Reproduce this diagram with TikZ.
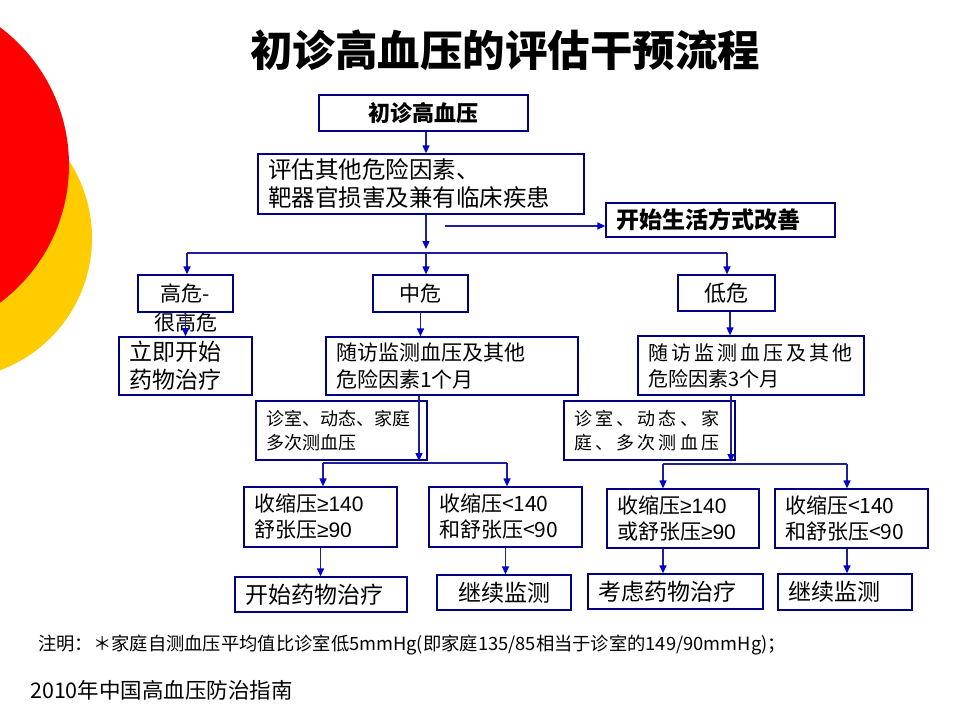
\documentclass[tikz,border=0pt]{standalone}
\usepackage{fontspec}
\setmainfont{Noto Sans CJK SC}
\newfontfamily\latinfont{Liberation Sans}
\usetikzlibrary{arrows.meta}
\definecolor{boxblue}{HTML}{000080}
\definecolor{lineblue}{HTML}{1F1F99}
\definecolor{tipblue}{HTML}{0000CC}
\definecolor{bgred}{HTML}{FF0000}
\definecolor{bgyellow}{HTML}{FFCC00}
\newcommand{\sz}[2]{\fontsize{#1}{#2}\selectfont}
\newcommand{\atleast}[1]{{\latinfont ≥#1}}
\tikzstyle{box} = [rectangle, draw=boxblue, line width=1.3pt, inner xsep=10pt, inner ysep=0pt, align=center]
\tikzstyle{boxl} = [box, align=left]
\tikzstyle{arrow} = [draw=lineblue, line width=1.3pt, -{Triangle[length=8pt,width=7pt,color=tipblue]}]
\tikzstyle{line} = [draw=lineblue, line width=1.3pt]

\begin{document}
\begin{tikzpicture}[x=1pt,y=-1pt]
\useasboundingbox (0,0) rectangle (960,720);
\begin{scope}
\clip (0,0) rectangle (960,720);
\fill [bgyellow] (-49,238) circle (141pt);
\fill [bgred] (-103,165) circle (172pt);
\end{scope}
\node (title) at (505,50) {\sz{42.5}{50}\bfseries 初诊高血压的评估干预流程};
\node (node0) [box, font=\sz{22}{26}\bfseries, minimum width=209pt, minimum height=36pt] at (423.5,113) {初诊高血压};
\node (node1) [boxl, font=\sz{23.5}{28}, text width=306pt, minimum height=60pt] at (421,184) {评估其他危险因素、\\靶器官损害及兼有临床疾患};
\draw [arrow] ([xshift=2.5pt]node0.south) -- ([xshift=2.5pt]node0.south |- node1.north);
\node (node2) [boxl, font=\sz{23}{27}\bfseries, text width=209pt, minimum height=34pt] at (720.5,220) {开始生活方式改善};
\coordinate (life0) at (445,226);
\draw [arrow] (life0) -- (life0 -| node2.west);
\node (node3) [box, font=\sz{21}{25}, minimum width=95pt, minimum height=37pt, label={[font=\sz{21}{25}, inner sep=0pt]below:很高危}] at (185.5,293.5) {高危-};
\node (node4) [box, font=\sz{21}{25}, minimum width=95pt, minimum height=37pt] at (420.5,293.5) {中危};
\node (node5) [box, font=\sz{22}{26}, minimum width=97pt, minimum height=36pt] at (726.5,293) {低危};
\coordinate (split0) at (426,253);
\coordinate (split0l) at (187,253);
\coordinate (split0r) at (727,253);
\draw [arrow, shorten >=4pt] (node1.south -| split0) -- (split0);
\draw [line] (split0l) -- (split0r);
\draw [arrow] (split0l) -- (split0l |- node3.north);
\draw [arrow] (split0) -- (split0 |- node4.north);
\draw [arrow] (split0r) -- (split0r |- node5.north);
\node (node6) [boxl, font=\sz{23}{28}, text width=113pt, minimum height=58pt] at (185.5,366) {立即开始\\药物治疗};
\draw [arrow] (node3.south) -- (node6.north);
\node (node7) [boxl, font=\sz{21}{27}, text width=232pt, minimum height=58pt] at (452,366) {随访监测血压及其他\\危险因素1个月};
\draw [arrow] (node4.south) -- (node4.south |- node7.north);
\node (node8) [boxl, font=\sz{20}{26}, text width=206pt, minimum height=59pt] at (751,365.5) {{\addfontfeature{LetterSpace=15}随访监测血压及其他}\\危险因素3个月};
\draw [arrow] ([xshift=3.5pt]node5.south) -- ([xshift=3.5pt]node5.south |- node8.north);
\node (node9) [boxl, font=\sz{18}{24}, text width=151pt, minimum height=59pt] at (341.5,430.5) {诊室、动态、家庭\\多次测血压};
\node (node10) [boxl, font=\sz{18}{24}\addfontfeature{LetterSpace=18}, text width=151pt, minimum height=59pt] at (649.5,430.5) {诊室、动态、家\\庭、多次测血压};
\node (node11) [boxl, font=\sz{21}{26}, text width=133pt, minimum height=60pt] at (320.5,517) {收缩压\atleast{140}\\舒张压\atleast{90}};
\node (node12) [boxl, font=\sz{21}{26}, text width=133pt, minimum height=60pt] at (505.5,517) {收缩压<140\\和舒张压<90};
\node (node13) [boxl, font=\sz{21}{26}, text width=132pt, minimum height=59pt] at (683,518.5) {收缩压\atleast{140}\\或舒张压\atleast{90}};
\node (node14) [boxl, font=\sz{21}{26}, text width=133pt, minimum height=59pt] at (851.5,518.5) {收缩压<140\\和舒张压<90};
\coordinate (split1) at (419,463);
\coordinate (split1l) at (323,463);
\coordinate (split1r) at (507,463);
\draw [arrow, shorten >=2pt] (node7.south -| split1) -- (split1);
\draw [line] (split1l) -- (split1r);
\draw [arrow] (split1l) -- (split1l |- node11.north);
\draw [arrow] (split1r) -- (split1r |- node12.north);
\coordinate (split2) at (731,464);
\coordinate (split2l) at (663,464);
\coordinate (split2r) at (847,464);
\draw [arrow, shorten >=2pt] (node8.south -| split2) -- (split2);
\draw [line] (split2l) -- (split2r);
\draw [arrow] (split2l) -- (split2l |- node13.north);
\draw [arrow] (split2r) -- (split2r |- node14.north);
\node (node15) [boxl, font=\sz{23}{27}, text width=152pt, minimum height=35pt] at (321,594.5) {开始药物治疗};
\node (node16) [box, font=\sz{23}{27}, minimum width=134pt, minimum height=35pt] at (504,592.5) {继续监测};
\node (node17) [boxl, font=\sz{23}{27}, text width=155pt, minimum height=35pt] at (675.5,591.5) {考虑药物治疗};
\node (node18) [boxl, font=\sz{23}{27}, text width=114pt, minimum height=36pt] at (845,592) {继续监测};
\draw [arrow] (node11.south) -- (node11.south |- node15.north);
\draw [arrow] (node12.south) -- (node12.south |- node16.north);
\draw [arrow] (node13.south -| split2l) -- (split2l |- node17.north);
\draw [arrow] (node14.south -| split2r) -- (split2r |- node18.north);
\node (note) [anchor=west, font=\sz{18.3}{22}, inner sep=0pt] at (38,645) {注明：＊家庭自测血压平均值比诊室低5mmHg(即家庭135/85相当于诊室的149/90mmHg)；};
\node (source) [anchor=west, font=\sz{21.5}{25}, inner sep=0pt] at (30,690) {2010年中国高血压防治指南};
\end{tikzpicture}
\end{document}
